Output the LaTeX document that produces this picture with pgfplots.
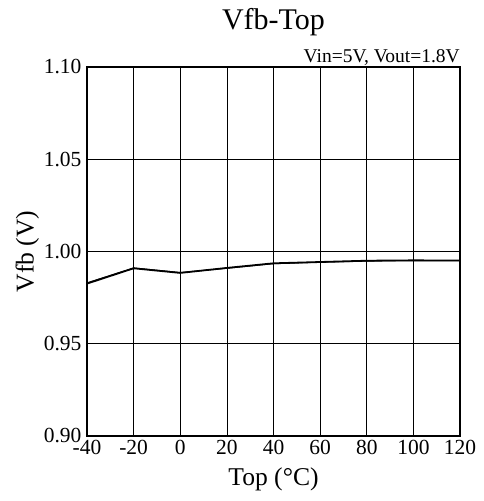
\documentclass[border=0pt]{standalone}
\usepackage{pgfplots}
\pgfplotsset{compat=1.18}
\usepackage{fontspec}
\setmainfont{Liberation Serif}
\begin{document}
\begin{tikzpicture}
\useasboundingbox (-87bp,-65bp) rectangle (397bp,436bp);
\begin{axis}[
  scale only axis, width=373bp, height=369bp,
  xmin=-40, xmax=120, ymin=0.90, ymax=1.10,
  xtick={-40,-20,...,120}, ytick={0.90,0.95,...,1.10},
  yticklabel style={/pgf/number format/fixed, /pgf/number format/fixed zerofill, /pgf/number format/precision=2},
  /pgf/number format/assume math mode=true,
  ticklabel style={font=\fontsize{21.5bp}{23bp}\selectfont},
  grid=major, major grid style={black, line width=0.7pt},
  axis line style={black, line width=1.4pt},
  tick style={draw=none},
  major tick length=0pt,
  xlabel={Top (°C)}, ylabel={Vfb (V)},
  label style={font=\fontsize{25.6bp}{27bp}\selectfont},
  xlabel style={at={(axis description cs:0.5,0)}, anchor=base, inner sep=0pt, yshift=-49bp},
  ylabel style={yshift=-2bp},
  xticklabel style={yshift=-1bp},
  yticklabel style={xshift=-2bp},
]
\addplot[black, line width=1.8pt] coordinates {(-40,0.9826) (-20,0.9909) (0,0.9884) (20,0.9911) (40,0.9936) (60,0.9943) (80,0.9950) (100,0.9952) (120,0.9951)};
\addplot[black, line width=1.0pt] coordinates {(-40,0.9830) (-20,0.9911) (0,0.9886) (20,0.9909) (40,0.9934) (60,0.9942) (80,0.9948) (100,0.9951) (120,0.9950)};
\end{axis}
\node[font=\fontsize{30bp}{32bp}\selectfont, anchor=base, inner sep=0pt] at (186.5bp,406bp) {Vfb-Top};
\node[font=\fontsize{19.5bp}{21bp}\selectfont, anchor=base east, inner sep=0pt] at (373bp,373bp) {Vin=5V, Vout=1.8V};
\end{tikzpicture}
\end{document}
